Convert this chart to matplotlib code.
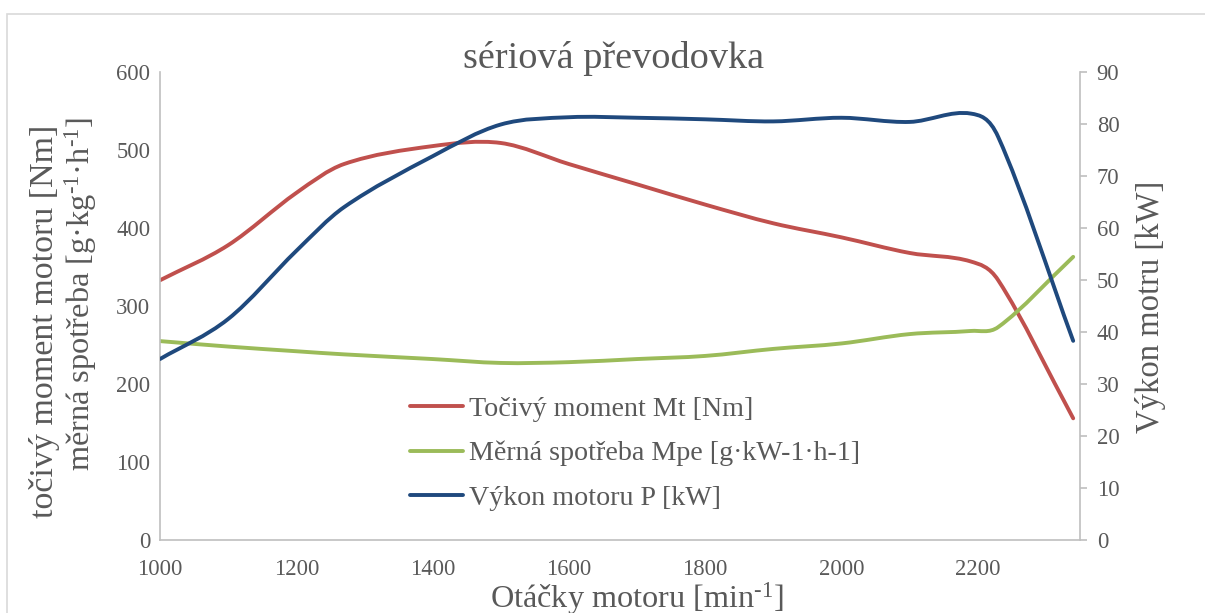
import numpy as np
import matplotlib
matplotlib.use("Agg")
import matplotlib.pyplot as plt
from matplotlib.path import Path
from matplotlib.patches import PathPatch, Rectangle
from matplotlib.lines import Line2D

plt.rcParams['font.family'] = ['Liberation Serif', 'DejaVu Serif']
plt.rcParams['mathtext.fontset'] = 'custom'
plt.rcParams['mathtext.rm'] = 'Liberation Serif'
plt.rcParams['mathtext.it'] = 'Liberation Serif:italic'

# data
rpm = [1000, 1100, 1200, 1270, 1400, 1500, 1600, 1700, 1800, 1900, 2000, 2100, 2190, 2230, 2340]
torque = [333, 378, 445, 482, 505, 509, 482, 456, 430, 406, 388, 368, 357, 333, 156]
consumption = [255, 248, 242, 238, 232, 227, 228, 232, 236, 245, 252, 264, 268, 273, 363]
power = [34.8, 42.5, 55.6, 64.0, 73.8, 79.9, 81.3, 81.2, 80.9, 80.5, 81.2, 80.4, 82.0, 77.5, 38.3]

labels = ["Točivý moment Mt [Nm]", "Měrná spotřeba Mpe [g·kW-1·h-1]", "Výkon motoru P [kW]"]
colors = ["#C0504D", "#9BBB59", "#1F497D"]

TXT = "#595959"
AX = "#BFBFBF"
W, H = 1205, 613


def smooth_path(x, y):
    # smoothed line like Excel: cubic bezier through every point,
    # tangents from neighbours so x never runs backwards
    x = np.asarray(x, float)
    y = np.asarray(y, float)
    n = len(x)
    slope = np.zeros(n)
    slope[0] = (y[1] - y[0]) / (x[1] - x[0])
    slope[-1] = (y[-1] - y[-2]) / (x[-1] - x[-2])
    slope[1:-1] = (y[2:] - y[:-2]) / (x[2:] - x[:-2])
    verts = [(x[0], y[0])]
    codes = [Path.MOVETO]
    for i in range(n - 1):
        h = x[i + 1] - x[i]
        verts += [(x[i] + h / 3, y[i] + slope[i] * h / 3),
                  (x[i + 1] - h / 3, y[i + 1] - slope[i + 1] * h / 3),
                  (x[i + 1], y[i + 1])]
        codes += [Path.CURVE4] * 3
    return Path(verts, codes)


fig = plt.figure(figsize=(W / 100, H / 100), dpi=100)
fig.patches.append(Rectangle((7 / W, -0.1), 1.2, (H - 14) / H + 0.1, transform=fig.transFigure,
                             fill=False, edgecolor="#D9D9D9", lw=1.2))

ax = fig.add_axes([160 / W, (H - 540) / H, 920 / W, 468 / H])
ax2 = ax.twinx()

ax.set_xlim(1000, 2350)
ax.set_ylim(0, 600)
ax2.set_ylim(0, 90)
ax.set_xticks(range(1000, 2201, 200))
ax.set_yticks(range(0, 601, 100))
ax2.set_yticks(range(0, 91, 10))

for a in (ax, ax2):
    for s in a.spines.values():
        s.set_visible(False)
ax.spines['left'].set_visible(True)
ax.spines['bottom'].set_visible(True)
ax2.spines['right'].set_visible(True)
for s in (ax.spines['left'], ax.spines['bottom'], ax2.spines['right']):
    s.set_color(AX)
    s.set_linewidth(1.2)

ax.tick_params(axis='both', length=0, labelsize=16.3, labelcolor=TXT)
ax.tick_params(axis='x', pad=14)
ax.tick_params(axis='y', pad=7)
ax2.tick_params(axis='y', length=5, width=1.2, color=AX, labelsize=16.3, labelcolor=TXT, pad=7)

ax.add_patch(PathPatch(smooth_path(rpm, torque), fill=False, edgecolor=colors[0], lw=2.8,
                       capstyle='round', joinstyle='round'))
ax.add_patch(PathPatch(smooth_path(rpm, consumption), fill=False, edgecolor=colors[1], lw=2.8,
                       capstyle='round', joinstyle='round'))
ax2.add_patch(PathPatch(smooth_path(rpm, power), fill=False, edgecolor=colors[2], lw=2.8,
                        capstyle='round', joinstyle='round'))

handles = [Line2D([], [], color=c, lw=2.8, solid_capstyle='round') for c in colors]
ax2.legend(handles, labels, loc='upper left', bbox_to_anchor=(410 / W, (H - 396) / H),
           bbox_transform=fig.transFigure, frameon=False, fontsize=20.2, labelcolor=TXT,
           handlelength=1.9, handletextpad=0.2, labelspacing=0.68, borderpad=0, borderaxespad=0)

fig.text(614 / W, (H - 68) / H, "sériová převodovka", ha='center', va='baseline',
         fontsize=27.5, color=TXT)
fig.text(637 / W, (H - 608) / H, "Otáčky motoru [min$^{‐1}$]", ha='center', va='baseline',
         fontsize=23.2, color=TXT)
fig.text(45 / W, (H - 321) / H, "točivý moment motoru [Nm]", rotation=90, ha='center', va='center',
         fontsize=24.5, color=TXT)
fig.text(81 / W, (H - 294) / H, "měrná spotřeba [g·kg$^{‐1}$·h$^{‐1}$]", rotation=90,
         ha='center', va='center', fontsize=23.3, color=TXT)
fig.text(1151 / W, (H - 307) / H, "Výkon motru [kW]", rotation=90, ha='center', va='center',
         fontsize=23.5, color=TXT)

fig.savefig("out.png", dpi=100)
